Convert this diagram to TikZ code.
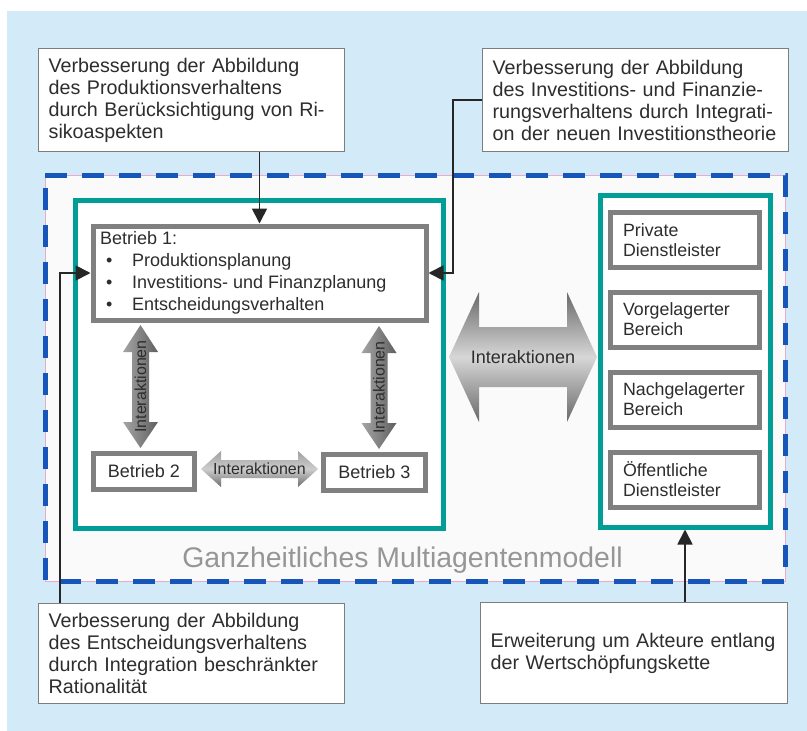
\documentclass[tikz,border=0pt]{standalone}
\usepackage{fontspec}
\setmainfont{Liberation Sans}
\usetikzlibrary{arrows.meta}
\definecolor{bgblue}{RGB}{211,234,248}
\definecolor{dashblue}{RGB}{22,85,185}
\definecolor{pinkline}{RGB}{235,170,205}
\definecolor{tealc}{RGB}{0,158,150}
\definecolor{boxgray}{RGB}{128,128,128}
\definecolor{annotgray}{RGB}{125,125,125}
\definecolor{txt}{RGB}{45,45,45}
\definecolor{gtext}{RGB}{150,150,150}
\definecolor{sdark}{RGB}{105,105,105}
\definecolor{slight}{RGB}{215,215,215}
\definecolor{sdarkb}{RGB}{95,95,95}
\definecolor{slightb}{RGB}{165,165,165}
\definecolor{hlight}{RGB}{160,160,160}
\definecolor{hmid}{RGB}{205,205,205}
\definecolor{hdark}{RGB}{110,110,110}
\newcommand{\annfont}{\fontsize{19.7}{22}\selectfont}
\newcommand{\boxfont}{\fontsize{18}{22}\selectfont}
\newcommand{\rfont}{\fontsize{17.8}{20}\selectfont}
\newcommand{\ifont}{\fontsize{16}{18}\selectfont}
\begin{document}
\begin{tikzpicture}[x=1pt,y=-1pt,
  annot/.style={draw=annotgray, line width=1.3pt, fill=white, inner xsep=10pt, inner ysep=0pt,
    text width=286pt, align=left, font=\annfont, text=txt, anchor=north west},
  frame/.style={draw=tealc, line width=5pt, fill=white, inner sep=0pt},
  gbox/.style={draw=boxgray, line width=5pt, fill=white, inner sep=0pt, font=\boxfont, text=txt},
  rbox/.style={gbox, text width=124pt, inner xsep=12.5pt, inner ysep=0pt, minimum height=55pt,
    align=left, font=\rfont},
  conn/.style={draw=black!85, line width=1.8pt, -{Triangle[length=15pt,width=15pt]}},
  ilabel/.style={font=\ifont, text=txt, inner sep=0pt},
]
\useasboundingbox (0,0) rectangle (807,731);
\fill[white] (0,0) rectangle (807,731);
\fill[bgblue] (7,11) rectangle (807,731);

% outer dashed model region
\fill[white!98!black] (45,175) rectangle (785,581);
\draw[pinkline, line width=0.8pt] (45,175) rectangle (785,581);
\draw[dashblue, line width=5pt, dash pattern=on 22pt off 15pt] (45,175) -- (785,175) -- (785,581) -- (45,581) -- cycle;

% teal frames
\node[frame, minimum width=368pt, minimum height=328pt] (tL) at (259,364) {};
\node[frame, minimum width=170pt, minimum height=332pt] (tR) at (685,361) {};

% Betrieb boxes
\node[gbox, minimum width=333pt, minimum height=94pt] (b1) at (259.5,273) {};
\node[anchor=north west, inner sep=0pt, align=left, font=\boxfont, text=txt] (b1t) at (100,231)
  {Betrieb 1:\\
   \makebox[32pt][l]{\hspace{6pt}\textbullet}Produktionsplanung\\
   \makebox[32pt][l]{\hspace{6pt}\textbullet}Investitions- und Finanzplanung\\
   \makebox[32pt][l]{\hspace{6pt}\textbullet}Entscheidungsverhalten};
\node[gbox, minimum width=101pt, minimum height=36pt] (b2) at (144,471.5) {Betrieb 2};
\node[gbox, minimum width=102pt, minimum height=36pt] (b3) at (374.5,472.5) {Betrieb 3};

% right boxes
\node[rbox] (r1) at (685,240) {Private\\Dienstleister};
\node[rbox] (r2) at (685,319.5) {Vorgelagerter\\Bereich};
\node[rbox] (r3) at (685,399.5) {Nachgelagerter\\Bereich};
\node[rbox] (r4) at (685,479.5) {Öffentliche\\Dienstleister};

% interaction arrows
\shade[top color=sdark, bottom color=sdark, middle color=slight]
  (449,357) -- (479,292) -- (479,327) -- (567,327) -- (567,292) -- (597,357)
  -- (567,422) -- (567,387) -- (479,387) -- (479,422) -- cycle;
\node[font=\fontsize{18}{20}\selectfont, text=txt, inner sep=0pt] (ibig) at (523,357) {Interaktionen};

\shade[top color=hlight, bottom color=hdark, middle color=hmid]
  (201,469) -- (221,451) -- (221,460) -- (298,460) -- (298,451) -- (318,469)
  -- (298,487) -- (298,478) -- (221,478) -- (221,487) -- cycle;
\node[ilabel] (ih) at (259.5,469) {Interaktionen};

\shade[left color=slightb, right color=sdarkb]
  (140.5,325) -- (158,352) -- (149,352) -- (149,422) -- (158,422) -- (140.5,448)
  -- (123,422) -- (132,422) -- (132,352) -- (123,352) -- cycle;
\node[ilabel, rotate=90] (iv1) at (140.5,386.5) {Interaktionen};

\shade[left color=slightb, right color=sdarkb]
  (379,326) -- (396.5,353) -- (387.5,353) -- (387.5,423) -- (396.5,423) -- (379,449)
  -- (361.5,423) -- (370.5,423) -- (370.5,353) -- (361.5,353) -- cycle;
\node[ilabel, rotate=90] (iv2) at (379,387.5) {Interaktionen};

% model title
\node[font=\fontsize{28.4}{30}\selectfont, text=gtext, inner sep=0pt] (gm) at (402.5,560) {Ganzheitliches Multiagentenmodell};

% annotation boxes
\node[annot, minimum height=103pt] (a1) at (38,48)
  {Verbesserung der Abbildung\\des Produktionsverhaltens\\durch Berücksichtigung von Ri-\\sikoaspekten};
\node[annot, minimum height=103pt] (a2) at (482,48)
  {Verbesserung der Abbildung\\des Investitions- und Finanzie-\\rungsverhaltens durch Integrati-\\on der neuen Investitionstheorie};
\node[annot, minimum height=100pt] (a3) at (38,603)
  {Verbesserung der Abbildung\\des Entscheidungsverhaltens\\durch Integration beschränkter\\Rationalität};
\node[annot, minimum height=101pt, text width=287pt] (a4) at (480,602)
  {Erweiterung um Akteure entlang\\der Wertschöpfungskette};

% connectors
\coordinate (c2) at (453,273);
\coordinate (c3) at (60,273);
\draw[conn] (a1.south -| b1.north) -- (b1.north);
\draw[conn] (a2.west) -| (c2) -- (b1.east);
\draw[conn] (a3.north -| c3) -- (c3) -- (b1.west);
\draw[conn] (a4.north -| tR.south) -- (tR.south);
\end{tikzpicture}
\end{document}
